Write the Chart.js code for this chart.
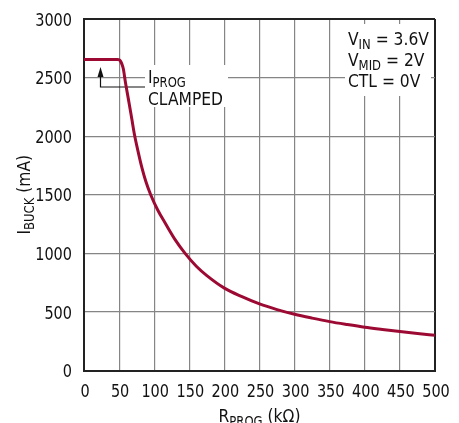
<!DOCTYPE html>
<html>
<head>
<meta charset="utf-8">
<script src="https://cdn.jsdelivr.net/npm/chart.js@4.4.1/dist/chart.umd.min.js"></script>
<style>
  body { margin: 0; background: #fff; }
  #wrap { width: 459px; height: 423px; }
</style>
</head>
<body>
<div id="wrap"><canvas id="chart" width="459" height="423"></canvas></div>
<script>
// R_PROG (kΩ) 和 I_BUCK (mA)
const rProg = [0, 20, 40, 48, 50, 52, 54, 56, 59, 64, 68, 72, 77, 82, 88, 95, 105, 116, 130, 144, 160, 175, 200, 225, 250, 275, 300, 325, 350, 375, 400, 425, 450, 475, 500];
const iBuck = [2655, 2655, 2655, 2655, 2652, 2640, 2615, 2575, 2460, 2290, 2150, 2010, 1870, 1742, 1615, 1500, 1370, 1255, 1115, 1000, 890, 810, 703, 630, 568, 520, 480, 447, 417, 392, 369, 350, 332, 316, 301];

const xMin = 0, xMax = 500, xStep = 50;
const yMin = 0, yMax = 3000, yStep = 500;

const curveColor = "#9c0a33";
const frameColor = "#222";
const gridColor = "#858585";
const textColor = "#111";

// 窄体字：有 DejaVu Sans Condensed 就用，否则 Liberation Sans，再横向压缩
let STRETCH = "condensed", FONT = "'DejaVu Sans'";
const SIZE = 18, SUB = 13.5;
const mctx = document.createElement("canvas").getContext("2d");
mctx.font = "19px 'DejaVu Sans'";
const wideW = mctx.measureText("CLAMPED 3000").width;
mctx.font = "condensed 19px 'DejaVu Sans'";
if (mctx.measureText("CLAMPED 3000").width > wideW * 0.95) {
  STRETCH = "";
  FONT = "'Liberation Sans', Arial, sans-serif";
}
function fontStr(size) { return (STRETCH ? STRETCH + " " : "") + size + "px " + FONT; }
mctx.font = fontStr(SIZE);
const numScale = 9.2 / mctx.measureText("0").width;       // 数字宽度约 9.2px
const txtScale = 75 / mctx.measureText("CLAMPED").width;  // 字母宽度

function drawScaled(ctx, t, x, y, sx, align) {
  const w = ctx.measureText(t).width * sx;
  const left = align === "right" ? x - w : align === "center" ? x - w / 2 : x;
  ctx.save();
  ctx.translate(left, y);
  ctx.scale(sx, 1);
  ctx.fillText(t, 0, 0);
  ctx.restore();
  return w;
}

// 画带下标的文字
function subText(ctx, x, y, parts) {
  let cx = x;
  for (const p of parts) {
    ctx.font = fontStr(p.sub ? SUB : SIZE);
    cx += drawScaled(ctx, p.t, cx, y + (p.sub ? 4 : 0), txtScale, "left");
  }
  return cx;
}
function partsWidth(ctx, parts) {
  let w = 0;
  for (const p of parts) { ctx.font = fontStr(p.sub ? SUB : SIZE); w += ctx.measureText(p.t).width * txtScale; }
  return w;
}

const notes = {
  id: "notes",
  beforeDatasetsDraw(chart) {
    const ctx = chart.ctx;
    const xs = chart.scales.x, ys = chart.scales.y;
    ctx.save();
    // 白底遮住网格
    ctx.fillStyle = "#fff";
    ctx.fillRect(145, 65, 83, 42);
    ctx.fillRect(345, 24, 86, 72);

    // 箭头和引线
    const ax = xs.getPixelForValue(23.5);
    ctx.strokeStyle = textColor;
    ctx.lineWidth = 1.2;
    ctx.beginPath();
    ctx.moveTo(ax, 75);
    ctx.lineTo(ax, 87);
    ctx.lineTo(145, 87);
    ctx.stroke();
    ctx.fillStyle = textColor;
    ctx.beginPath();
    ctx.moveTo(ax, 67);
    ctx.lineTo(ax - 3, 77);
    ctx.lineTo(ax + 3, 77);
    ctx.closePath();
    ctx.fill();

    ctx.textBaseline = "alphabetic";
    ctx.textAlign = "left";
    subText(ctx, 148, 83, [{t: "I"}, {t: "PROG", sub: true}]);
    subText(ctx, 148, 104.5, [{t: "CLAMPED"}]);

    subText(ctx, 348, 44.5, [{t: "V"}, {t: "IN", sub: true}, {t: " = 3.6V"}]);
    subText(ctx, 348, 65.5, [{t: "V"}, {t: "MID", sub: true}, {t: " = 2V"}]);
    subText(ctx, 348, 87, [{t: "CTL = 0V"}]);

    // 刻度文字（位置取自库的刻度）
    ctx.font = fontStr(SIZE);
    ys.ticks.forEach((tk) => {
      drawScaled(ctx, String(tk.value), 72, ys.getPixelForValue(tk.value) + 6.7, numScale, "right");
    });
    xs.ticks.forEach((tk) => {
      drawScaled(ctx, String(tk.value), xs.getPixelForValue(tk.value) + 1, 397, numScale, "center");
    });

    // 坐标轴标题
    let parts = [{t: "R"}, {t: "PROG", sub: true}, {t: " (k\u03a9)"}];
    let w = partsWidth(ctx, parts);
    const cxMid = (chart.chartArea.left + chart.chartArea.right) / 2;
    subText(ctx, cxMid - w / 2, 421.5, parts);

    parts = [{t: "I"}, {t: "BUCK", sub: true}, {t: " (mA)"}];
    w = partsWidth(ctx, parts);
    const cyMid = (chart.chartArea.top + chart.chartArea.bottom) / 2;
    ctx.translate(30, cyMid);
    ctx.rotate(-Math.PI / 2);
    subText(ctx, -w / 2, 0, parts);
    ctx.restore();
  }
};

function isEdge(c, max) { return c.tick && (c.tick.value === 0 || c.tick.value === max); }

new Chart(document.getElementById("chart"), {
  type: "scatter",
  data: {
    datasets: [{
      data: rProg.map((r, i) => ({x: r, y: iBuck[i]})),
      showLine: true,
      borderColor: curveColor,
      borderWidth: 3,
      pointRadius: 0,
      cubicInterpolationMode: "monotone",
      fill: false
    }]
  },
  options: {
    responsive: false,
    animation: false,
    layout: { padding: { top: 19, right: 24, left: 0, bottom: 0 } },
    plugins: { legend: { display: false }, tooltip: { enabled: false } },
    scales: {
      x: {
        type: "linear",
        min: xMin, max: xMax,
        afterFit: (s) => { s.height = 52.5; },
        ticks: { stepSize: xStep, autoSkip: false, display: false },
        grid: { color: (c) => isEdge(c, xMax) ? frameColor : gridColor, lineWidth: (c) => isEdge(c, xMax) ? 2 : 1.2, drawTicks: false },
        border: { color: frameColor, width: 2 }
      },
      y: {
        min: yMin, max: yMax,
        afterFit: (s) => { s.width = 84; },
        ticks: { stepSize: yStep, autoSkip: false, display: false },
        grid: { color: (c) => isEdge(c, yMax) ? frameColor : gridColor, lineWidth: (c) => isEdge(c, yMax) ? 2 : 1.2, drawTicks: false },
        border: { color: frameColor, width: 2 }
      }
    }
  },
  plugins: [notes]
});
</script>
</body>
</html>
